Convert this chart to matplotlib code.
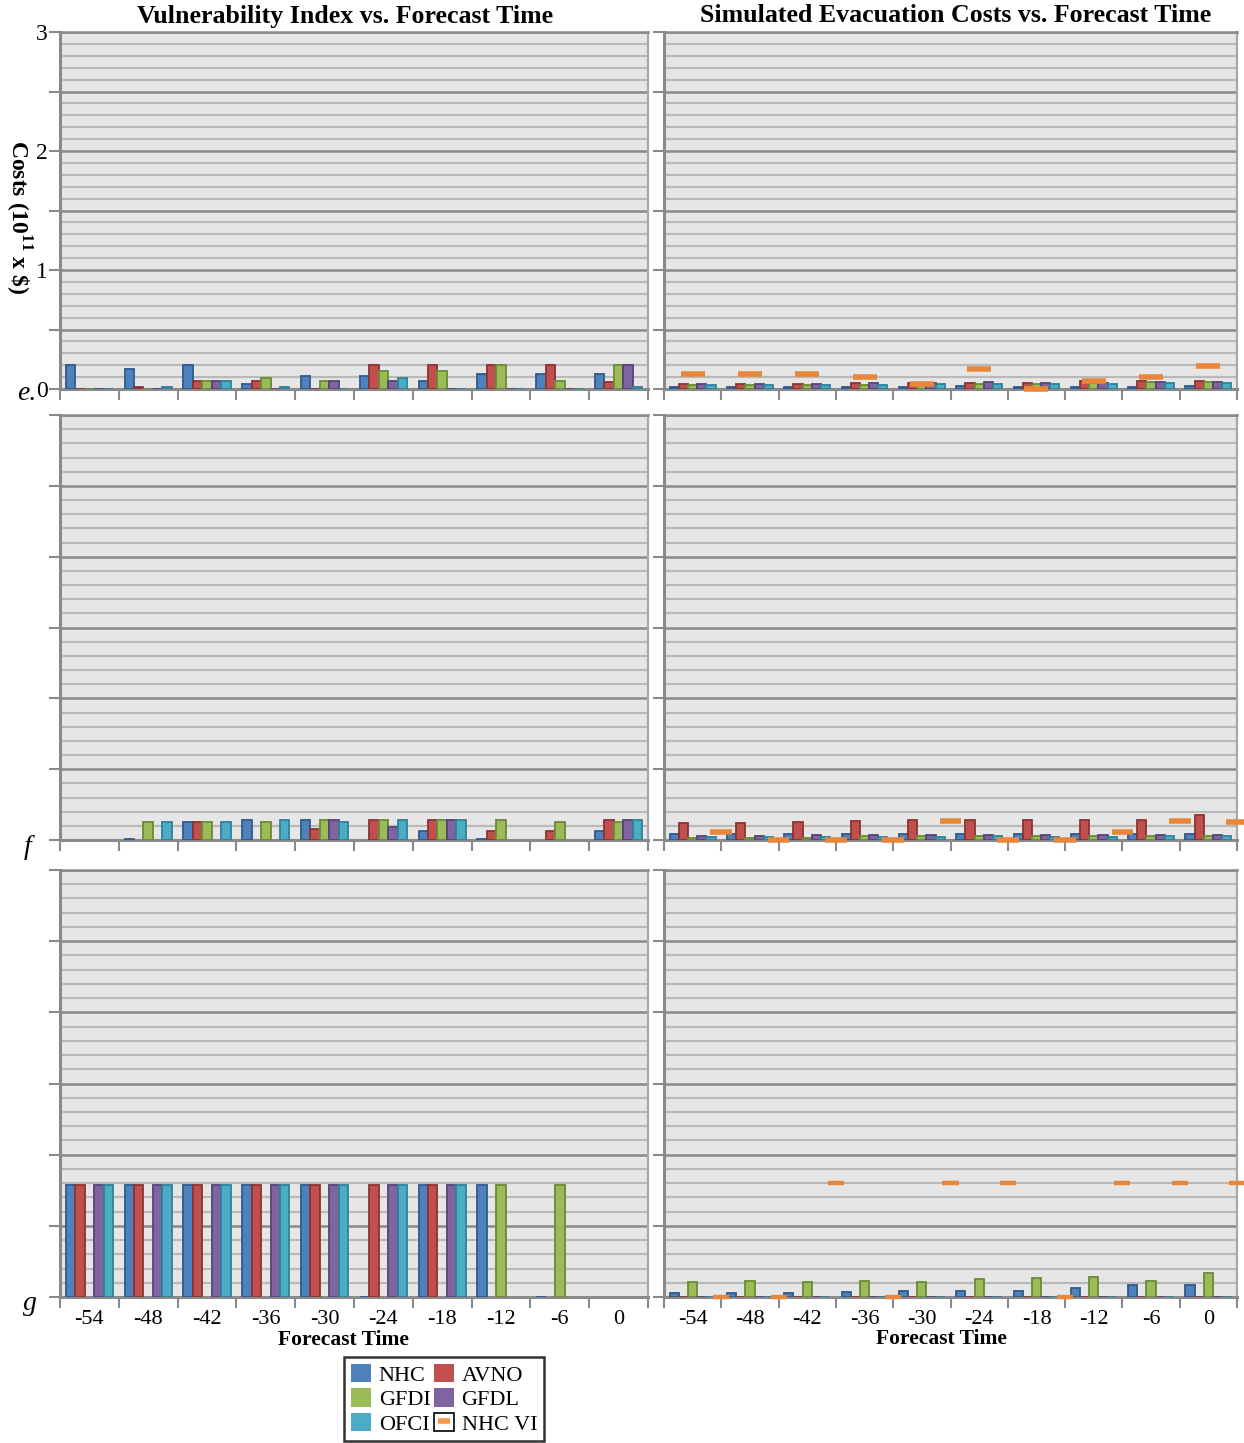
import numpy as np
import matplotlib
matplotlib.use("Agg")
import matplotlib.pyplot as plt
from matplotlib.patches import Patch
from matplotlib.lines import Line2D
from matplotlib.legend_handler import HandlerTuple
from matplotlib.ticker import MultipleLocator, FixedLocator, FuncFormatter

plt.rcParams['font.family'] = ['Liberation Serif', 'DejaVu Serif']
plt.rcParams['mathtext.fontset'] = 'custom'
plt.rcParams['mathtext.rm'] = 'Liberation Serif'
plt.rcParams['mathtext.bf'] = 'Liberation Serif:bold'

nan = np.nan
times = [-54, -48, -42, -36, -30, -24, -18, -12, -6, 0]
models = ["NHC", "AVNO", "GFDI", "GFDL", "OFCI"]

# panel e: vulnerability index (left) and costs (right)
nhc_e_vi = [0.20, 0.17, 0.20, 0.04, 0.11, 0.11, 0.07, 0.13, 0.13, 0.13]
avno_e_vi = [0.0, 0.02, 0.07, 0.07, 0.0, 0.20, 0.20, 0.20, 0.20, 0.055]
gfdi_e_vi = [0.0, 0.0, 0.07, 0.09, 0.07, 0.15, 0.15, 0.20, 0.07, 0.20]
gfdl_e_vi = [0.0, 0.0, 0.07, 0.0, 0.07, 0.07, 0.0, 0.0, 0.0, 0.20]
ofci_e_vi = [0.0, 0.02, 0.07, 0.02, 0.0, 0.09, 0.0, 0.0, 0.0, 0.02]

nhc_e_c = [0.015, 0.015, 0.015, 0.015, 0.015, 0.025, 0.015, 0.015, 0.015, 0.025]
avno_e_c = [0.045, 0.045, 0.045, 0.05, 0.05, 0.05, 0.05, 0.065, 0.065, 0.07]
gfdi_e_c = [0.03, 0.03, 0.03, 0.035, 0.035, 0.045, 0.045, 0.05, 0.055, 0.055]
gfdl_e_c = [0.045, 0.045, 0.045, 0.05, 0.05, 0.055, 0.05, 0.05, 0.055, 0.055]
ofci_e_c = [0.035, 0.035, 0.035, 0.035, 0.04, 0.045, 0.045, 0.045, 0.05, 0.05]
vi_e_c = [0.125, 0.125, 0.125, 0.10, 0.045, 0.17, 0.0, 0.065, 0.10, 0.195]

# panel f
nhc_f_vi = [nan, 0.005, 0.13, 0.14, 0.14, nan, 0.062, 0.005, nan, 0.062]
avno_f_vi = [nan, nan, 0.13, nan, 0.076, 0.14, 0.14, 0.062, 0.062, 0.14]
gfdi_f_vi = [nan, 0.13, 0.13, 0.13, 0.14, 0.14, 0.14, 0.14, 0.13, 0.13]
gfdl_f_vi = [nan, nan, nan, nan, 0.14, 0.093, 0.14, nan, nan, 0.14]
ofci_f_vi = [nan, 0.13, 0.13, 0.14, 0.13, 0.14, 0.14, nan, nan, 0.14]

nhc_f_c = [0.045, 0.045, 0.045, 0.042, 0.042, 0.042, 0.042, 0.042, 0.042, 0.042]
avno_f_c = [0.12, 0.12, 0.125, 0.135, 0.14, 0.14, 0.14, 0.14, 0.14, 0.18]
gfdi_f_c = [0.017, 0.017, 0.017, 0.025, 0.025, 0.025, 0.025, 0.025, 0.025, 0.025]
gfdl_f_c = [0.03, 0.03, 0.035, 0.033, 0.035, 0.035, 0.035, 0.035, 0.035, 0.035]
ofci_f_c = [0.02, 0.02, 0.02, 0.02, 0.023, 0.025, 0.023, 0.023, 0.025, 0.025]
vi_f_c = [0.06, 0.0, 0.0, 0.0, 0.135, 0.0, 0.0, 0.06, 0.135, 0.13]

# panel g
nhc_g_vi = [0.79, 0.79, 0.79, 0.79, 0.79, 0.003, 0.79, 0.79, 0.003, nan]
avno_g_vi = [0.79, 0.79, 0.79, 0.79, 0.79, 0.79, 0.79, nan, nan, nan]
gfdi_g_vi = [nan, nan, nan, nan, nan, nan, nan, 0.79, 0.79, nan]
gfdl_g_vi = [0.79, 0.79, 0.79, 0.79, 0.79, 0.79, 0.79, nan, nan, nan]
ofci_g_vi = [0.79, 0.79, 0.79, 0.79, 0.79, 0.79, 0.79, nan, nan, nan]

nhc_g_c = [0.028, 0.026, 0.028, 0.035, 0.04, 0.042, 0.045, 0.061, 0.083, 0.085]
avno_g_c = [0.0] * 10
gfdi_g_c = [0.106, 0.11, 0.106, 0.11, 0.106, 0.125, 0.137, 0.14, 0.115, 0.167]
gfdl_g_c = [0.0] * 10
ofci_g_c = [0.0] * 10
vi_g_c = [0.0, 0.0, 0.8, 0.0, 0.8, 0.8, 0.0, 0.8, 0.8, 0.8]

colors = ["#4f81bd", "#c0504d", "#9bbb59", "#8064a2", "#4bacc6"]
edges = ["#2f5a8c", "#8c3331", "#6b8a35", "#56427a", "#2f8198"]
vi_color = "#e8873a"

W, H = 1244, 1443
fig = plt.figure(figsize=(W / 100, H / 100), dpi=100)


def px_axes(x0, y0, x1, y1):
    return fig.add_axes([x0 / W, 1 - y1 / H, (x1 - x0) / W, (y1 - y0) / H])


def style(ax, ylabels=False, xlabels=False):
    ax.set_facecolor("#e6e6e6")
    ax.set_xlim(-0.5, 9.5)
    ax.set_ylim(0, 3)
    ax.yaxis.set_major_locator(MultipleLocator(0.5))
    ax.yaxis.set_minor_locator(MultipleLocator(0.1))
    ax.grid(which="minor", axis="y", color="#b9b9b9", lw=1.6)
    ax.grid(which="major", axis="y", color="#8a8a8a", lw=1.8)
    ax.set_axisbelow(True)
    ax.xaxis.set_major_locator(FixedLocator(np.arange(-0.5, 10, 1)))
    ax.set_xticks(range(10), [str(t) for t in times] if xlabels else [""] * 10, minor=True)
    ax.tick_params(axis="x", which="major", length=8, width=1.5, color="#8a8a8a",
                   labelbottom=False)
    ax.tick_params(axis="x", which="minor", length=0, labelsize=16, pad=9)
    ax.tick_params(axis="y", which="major", length=8, width=1.5, color="#8a8a8a",
                   labelsize=17, pad=1)
    ax.tick_params(axis="y", which="minor", length=0)
    if ylabels:
        ax.yaxis.set_major_formatter(
            FuncFormatter(lambda v, p: "%d" % v if abs(v - round(v)) < 1e-6 else ""))
    else:
        ax.yaxis.set_major_formatter(FuncFormatter(lambda v, p: ""))
    for s in ["left", "bottom"]:
        ax.spines[s].set_color("#8a8a8a")
        ax.spines[s].set_linewidth(2.2)
    ax.spines["top"].set_color("#8a8a8a")
    ax.spines["top"].set_linewidth(1.8)
    ax.spines["right"].set_color("#a8a8a8")
    ax.spines["right"].set_linewidth(1.6)


def draw_bars(ax, series):
    x = np.arange(10)
    bw = 0.16
    for i, vals in enumerate(series):
        ax.bar(x - 0.4 + bw * (i + 0.5), np.array(vals, dtype=float), width=bw,
               color=colors[i], edgecolor=edges[i], lw=1.3, zorder=3)


def draw_vi(ax, vals, off, w, lw):
    x = np.arange(10) + off
    ax.hlines(vals, x - w / 2, x + w / 2, color=vi_color, lw=lw, zorder=4, clip_on=False)


rows = [(32, 389), (415, 840), (870, 1297)]
left = [(nhc_e_vi, avno_e_vi, gfdi_e_vi, gfdl_e_vi, ofci_e_vi),
        (nhc_f_vi, avno_f_vi, gfdi_f_vi, gfdl_f_vi, ofci_f_vi),
        (nhc_g_vi, avno_g_vi, gfdi_g_vi, gfdl_g_vi, ofci_g_vi)]
right = [(nhc_e_c, avno_e_c, gfdi_e_c, gfdl_e_c, ofci_e_c),
         (nhc_f_c, avno_f_c, gfdi_f_c, gfdl_f_c, ofci_f_c),
         (nhc_g_c, avno_g_c, gfdi_g_c, gfdl_g_c, ofci_g_c)]
vis = [vi_e_c, vi_f_c, vi_g_c]
vi_style = [(0.0, 0.42, 4.0), (0.5, 0.38, 4.0), (0.5, 0.28, 3.2)]

for r, (y0, y1) in enumerate(rows):
    axl = px_axes(60, y0, 648, y1)
    style(axl, ylabels=(r == 0), xlabels=(r == 2))
    draw_bars(axl, left[r])
    axr = px_axes(664, y0, 1237, y1)
    style(axr, xlabels=(r == 2))
    draw_bars(axr, right[r])
    off, w, lw = vi_style[r]
    draw_vi(axr, vis[r], off, w, lw)

fig.text(345 / W, 1 - 17 / H, "Vulnerability Index vs. Forecast Time", ha="center",
         va="center", fontsize=18.6, fontweight="bold")
fig.text(956 / W, 1 - 15 / H, "Simulated Evacuation Costs vs. Forecast Time", ha="center",
         va="center", fontsize=18.6, fontweight="bold")
fig.text(18 / W, 1 - 217 / H, r"Costs (10$^{\mathbf{11}}$ x \$)", rotation=270,
         ha="center", va="center", fontsize=17, fontweight="bold")
fig.text(343 / W, 1 - 1340 / H, "Forecast Time", ha="center", va="center",
         fontsize=15.5, fontweight="bold")
fig.text(941 / W, 1 - 1339 / H, "Forecast Time", ha="center", va="center",
         fontsize=15.5, fontweight="bold")
for lab, (lx, ly) in zip(["e.", "f", "g"], [(27, 394), (28, 847), (30, 1304)]):
    fig.text(lx / W, 1 - ly / H, lab, ha="center", va="center", fontsize=20,
             style="italic")

handles = [Patch(facecolor=c) for c in colors]
vi_handle = (Patch(facecolor="white", edgecolor="black", lw=1.2),
             Line2D([], [], ls="none", marker="_", markersize=9, mew=4,
                    color="#f79646"))
hs = [handles[0], handles[2], handles[4], handles[1], handles[3], vi_handle]
ls = ["NHC", "GFDI", "OFCI", "AVNO", "GFDL", "NHC VI"]
leg = fig.legend(hs, ls, ncol=2, loc="upper center",
                 bbox_to_anchor=(444 / W, 1 - 1357 / H), frameon=True, fancybox=False,
                 edgecolor="black", fontsize=16, handlelength=0.9, handleheight=0.9,
                 handletextpad=0.35, columnspacing=0.15, labelspacing=0.12,
                 borderpad=0.3, borderaxespad=0,
                 handler_map={tuple: HandlerTuple(ndivide=1)})
leg.get_frame().set_linewidth(1.8)

fig.savefig("out.png", dpi=100)
